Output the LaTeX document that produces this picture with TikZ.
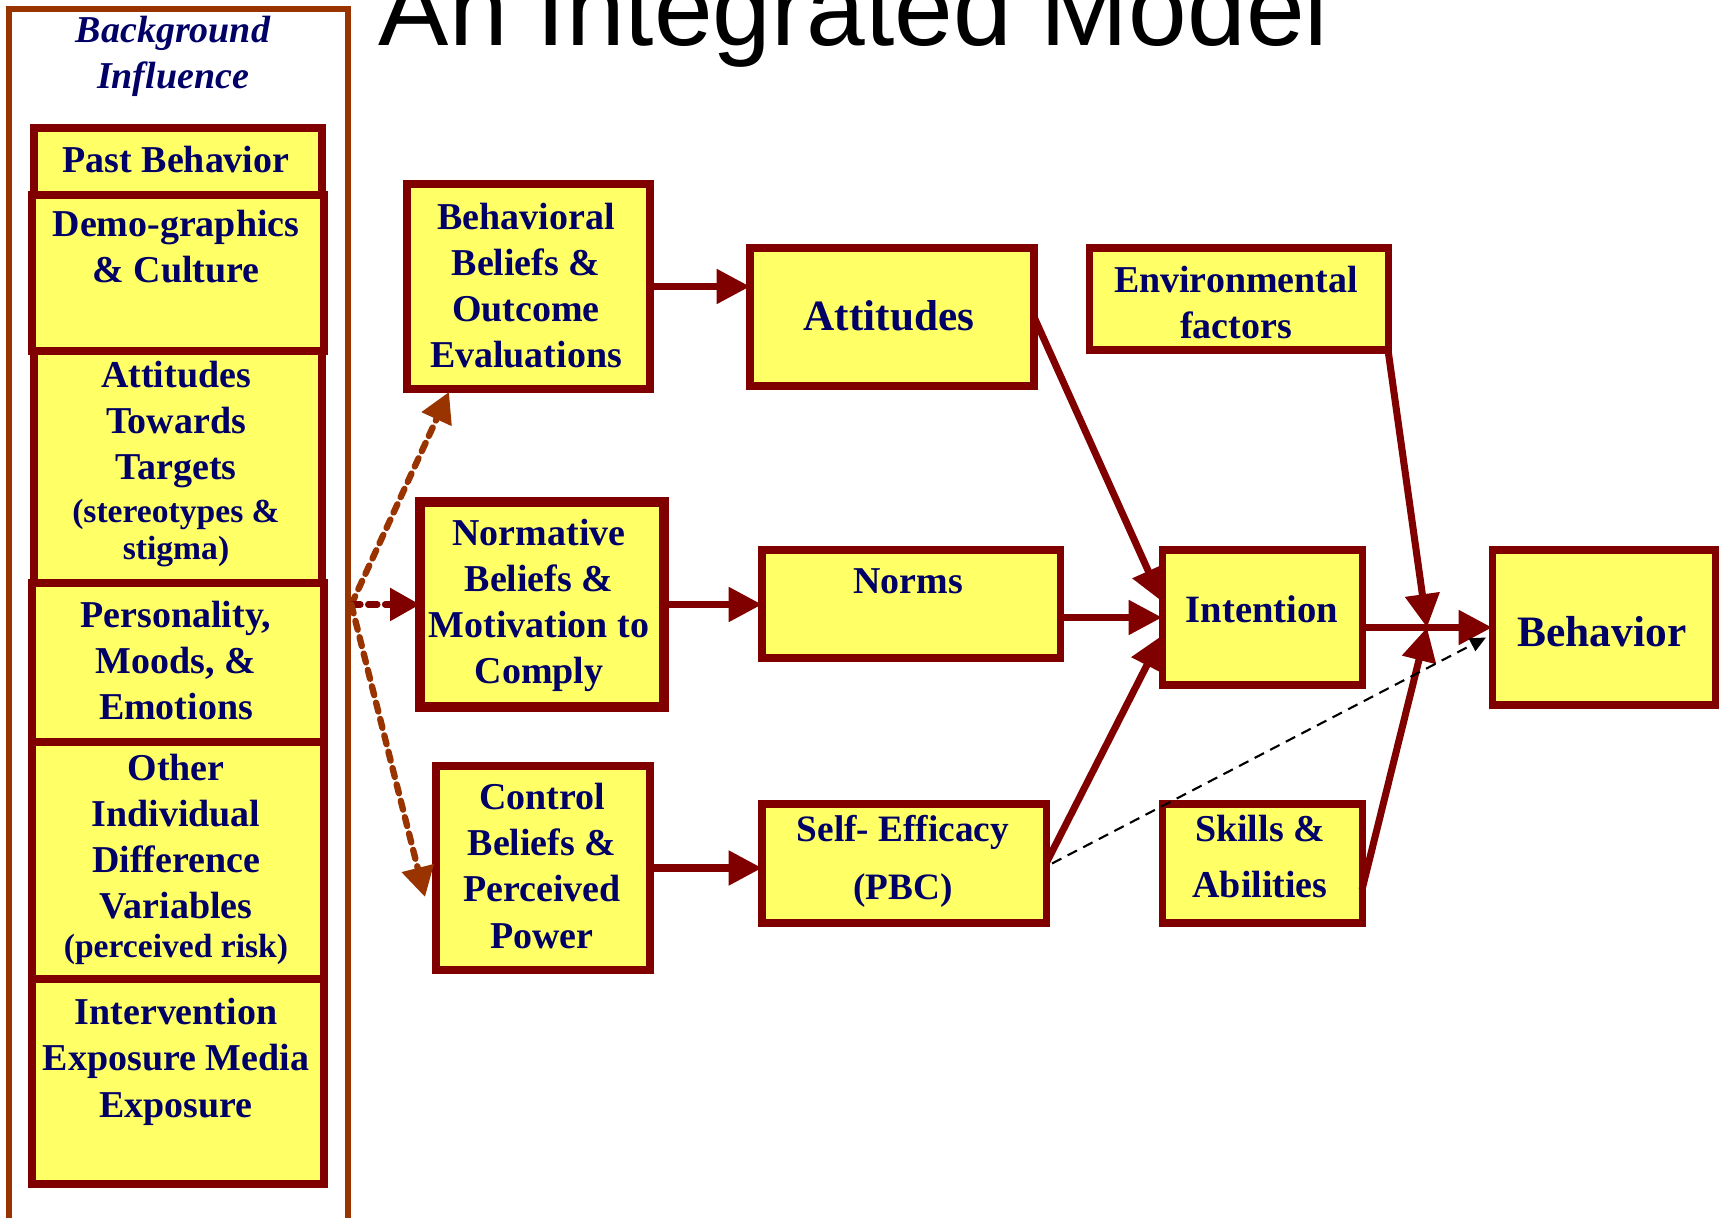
\documentclass[tikz,border=0pt]{standalone}
\usepackage{fontspec}
\setmainfont{Liberation Serif}
\newfontfamily\titlefont{Liberation Sans}
\usetikzlibrary{arrows.meta,fit,calc}
\definecolor{boxred}{RGB}{128,0,0}
\definecolor{boxyel}{RGB}{255,255,102}
\definecolor{navy}{RGB}{0,0,102}
\definecolor{brownline}{RGB}{153,51,0}
\begin{document}
\begin{tikzpicture}[x=0.1mm,y=-0.1mm,
  box/.style={draw=boxred, fill=boxyel, line width=2pt, inner sep=0pt, outer sep=0pt},
  txt/.style={text=navy, font=\bfseries\fontsize{10.8}{13.1}\selectfont, align=center, inner sep=0pt, anchor=base},
  smalltxt/.style={txt, font=\bfseries\fontsize{9.56}{10.8}\selectfont},
  arr/.style={draw=boxred, line width=2pt, -{Triangle[length=9.5pt,width=9.5pt]}},
  darr/.style={draw=brownline, line width=1.8pt, dash pattern=on 2.6pt off 2.2pt, line cap=round, -{Triangle[length=8.5pt,width=9pt]}},
  blackdash/.style={draw=black, line width=0.6pt, dash pattern=on 3pt off 2pt, -{Triangle[length=4.5pt,width=4pt]}}
]
\useasboundingbox (0,0) rectangle (1719,1218);
\fill[white] (0,0) rectangle (1719,1218);

% title
\node[anchor=base west, inner sep=0pt, font=\titlefont\fontsize{30}{36}\selectfont] (title) at (378,46) {An Integrated Model};

% background frame
\node[draw=brownline, line width=1.9pt, inner sep=0pt, fit={(9,9) (348,1260)}] (outer) {};
\node[txt, font=\bfseries\itshape\fontsize{10.8}{13.1}\selectfont] (bg) at (173,89) {Background\\Influence};

% left column
\node[box, fit={(34,128) (322,195)}] (pb) {};
\node[box, fit={(32,195) (324,351)}] (dg) {};
\node[box, fit={(34,351) (322,583)}] (at) {};
\node[box, fit={(32,583) (324,742)}] (pm) {};
\node[box, fit={(32,742) (324,979)}] (oi) {};
\node[box, fit={(32,979) (324,1184)}] (ie) {};

\node[txt] (pb-t) at (176,173) {Past Behavior};
\node[txt] (dg-t) at (176,283) {Demo-graphics\\\& Culture};
\node[txt] (at-t) at (176,480) {Attitudes\\Towards\\Targets};
\node[smalltxt] (at-s) at (176,560) {(stereotypes \&\\stigma)};
\node[txt] (pm-t) at (176,720) {Personality,\\Moods, \&\\Emotions};
\node[txt] (oi-t) at (176,919) {Other\\Individual\\Difference\\Variables};
\node[smalltxt] (oi-s) at (176,958) {(perceived risk)};
\node[txt] (ie-t) at (176,1117) {Intervention\\Exposure Media\\Exposure};

% middle column
\node[box, fit={(407,184) (650,389)}] (bb) {};
\node[box, line width=2.6pt, fit={(420,502) (664,707)}] (nb) {};
\node[box, fit={(436,766) (650,970)}] (cb) {};
\node[txt] (bb-t) at (526,368) {Behavioral\\Beliefs \&\\Outcome\\Evaluations};
\node[txt] (nb-t) at (539,684) {Normative\\Beliefs \&\\Motivation to\\Comply};
\node[txt] (cb-t) at (542,948) {Control\\Beliefs \&\\Perceived\\Power};

\node[box, line width=2.4pt, fit={(750,248) (1034,386)}] (att) {};
\node[box, fit={(762,550) (1060,658)}] (nrm) {};
\node[box, fit={(762,804) (1046,923)}] (se) {};
\node[txt, font=\bfseries\fontsize{12.3}{14}\selectfont] (att-t) at (889,331) {Attitudes};
\node[txt] (nrm-t) at (908,594) {Norms};
\node[txt, font=\bfseries\fontsize{10.6}{16.5}\selectfont] (se-t) at (903,899) {Self- Efficacy\\(PBC)};

\node[box, fit={(1089,248) (1388,350)}] (env) {};
\node[box, fit={(1162,550) (1362,685)}] (int) {};
\node[box, fit={(1162,804) (1362,923)}] (sk) {};
\node[box, fit={(1492,550) (1715,705)}] (beh) {};
\node[txt] (env-t) at (1236,339) {Environmental\\factors};
\node[txt, font=\bfseries\fontsize{11}{13}\selectfont] (int-t) at (1262,623) {Intention};
\node[txt, font=\bfseries\fontsize{10.8}{16.2}\selectfont] (sk-t) at (1260,898) {Skills \&\\Abilities};
\node[txt, font=\bfseries\fontsize{12.35}{14}\selectfont] (beh-t) at (1602,647) {Behavior};

% connectors
\draw[arr] (bb.east) -- (att.west |- bb.east);
\draw[arr] (nb.east) -- (nrm.west |- nb.east);
\draw[arr] (cb.east) -- (se.west |- cb.east);

\draw[arr] (att.east) -- ([yshift=1.6mm]int.west);
\draw[arr] (nrm.east |- int.west) -- (int.west);
\draw[arr] (se.east) -- ([yshift=-1.8mm]int.west);

\coordinate (j) at ($(int.east |- beh.west)!0.5!(beh.west)$);
\draw[arr] (int.east |- beh.west) -- (beh.west);
\draw[arr] (env.south east) -- (j);
\draw[arr] ([yshift=-2.6mm]sk.east) -- (j);
\draw[blackdash] ([xshift=0.6mm]se.east) -- ([yshift=-1mm,xshift=-0.6mm]beh.west);

\coordinate (o) at (outer.east |- nb.west);
\draw[darr] (o) -- ([xshift=4.2mm,yshift=-0.3mm]bb.south west);
\draw[darr, draw=boxred] (o) -- (nb.west);
\draw[darr] (o) -- ([xshift=-1.1mm,yshift=-2.9mm]cb.west);
\end{tikzpicture}
\end{document}
